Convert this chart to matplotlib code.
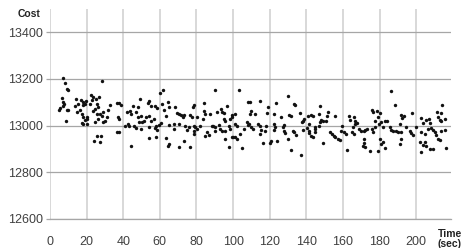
import numpy as np
import matplotlib
matplotlib.use("Agg")
import matplotlib.pyplot as plt

# time (sec) and cost values
time_s = [
    7.3, 8.0, 9.5, 10.0, 28.2, 6.7, 7.3, 7.6, 6.9, 5.5, 5.1, 9.1, 10.0, 14.0, 16.7, 18.2, 19.5, 19.1,
    17.8, 15.5, 13.6, 16.4, 14.5, 17.3, 18.2, 20.0, 20.4, 19.1, 17.3, 18.2, 22.2, 23.3, 26.5, 25.1,
    22.7, 21.8, 25.5, 24.5, 26.4, 23.6, 25.5, 27.3, 28.2, 29.1, 31.8, 32.7, 30.0, 28.7, 26.4, 24.5,
    8.7, 20.0, 25.5, 27.6, 24.0, 27.3, 36.4, 36.4, 30.9,
    61.5, 37.8, 38.7, 36.9, 37.5, 49.1, 45.1, 47.8, 53.3, 54.2, 55.1, 57.5, 58.7, 60.0, 61.1, 64.2,
    65.1, 62.4, 63.3, 43.6, 41.8, 44.2, 46.9, 47.8, 49.6, 48.7, 50.2, 51.5, 52.4, 54.2, 55.1, 56.9,
    42.4, 41.1, 43.3, 46.0, 46.9, 49.6, 54.2, 57.5, 58.7, 57.8, 60.5, 59.6, 65.1, 67.8, 70.5, 69.3,
    70.2, 71.5, 72.4, 68.4, 44.2, 54.2, 57.8, 63.3, 65.1, 64.2, 70.2, 67.8, 37.8,
    89.9, 103.0, 83.9, 78.4, 77.9, 73.0, 76.6, 77.5, 80.2, 83.9, 84.4, 83.3, 87.5, 91.1, 93.5, 94.2,
    95.3, 96.6, 99.3, 100.8, 94.8, 95.7, 98.4, 99.3, 101.1, 102.0, 108.4, 107.5, 108.0, 73.9, 75.7,
    74.8, 78.4, 79.3, 78.9, 80.2, 78.4, 82.0, 85.7, 86.6, 84.8, 88.4, 89.3, 90.2, 92.1, 93.0, 93.9,
    95.7, 97.5, 98.4, 99.3, 100.2, 101.1, 102.0, 103.9, 105.7, 73.0, 76.6, 97.5, 104.8, 95.7, 90.2,
    109.0, 114.5, 109.6, 109.0, 112.1, 129.9, 133.2, 133.9, 123.6, 119.0, 118.6, 122.3, 125.9, 130.8,
    131.4, 136.3, 138.1, 139.0, 137.6, 140.8, 142.6, 143.5, 141.7, 108.5, 109.9, 110.8, 113.6, 114.5,
    115.4, 118.1, 114.5, 117.2, 122.6, 123.0, 122.3, 127.7, 127.2, 127.7, 128.1, 132.6, 133.5, 134.5,
    138.1, 140.5, 141.2, 141.7, 142.6, 143.5, 116.3, 119.9, 120.8, 124.1, 129.9, 131.7, 137.2, 144.5,
    147.4, 146.8, 151.7, 151.4, 155.9, 148.1, 147.7, 149.2, 150.5, 146.8, 145.0, 144.5, 153.2, 154.1,
    155.0, 155.9, 157.2, 158.3, 159.6, 159.0, 160.5, 161.4, 163.2, 164.1, 165.9, 166.8, 166.8, 167.7,
    165.6, 165.0, 165.9, 168.6, 169.6, 171.4, 172.3, 173.2, 175.9, 176.5, 178.6, 179.0, 177.7, 175.9,
    176.5, 177.7, 179.6, 171.4, 171.7, 171.0, 172.3, 175.0, 179.0, 162.3, 149.2,
    186.5, 188.3, 214.3, 211.4, 213.7, 211.9, 212.8, 213.7, 215.6, 191.9, 193.2, 192.5, 197.7, 180.5,
    181.0, 182.8, 184.1, 181.9, 185.6, 186.5, 187.4, 189.2, 190.1, 191.9, 191.4, 194.6, 196.5, 197.4,
    198.3, 200.1, 202.8, 203.7, 205.5, 207.0, 207.4, 208.3, 209.2, 210.1, 211.0, 206.5, 202.8, 204.6,
    213.7, 215.6, 180.1, 181.9, 181.0, 182.8, 191.9, 191.0, 201.9, 204.6, 203.7, 205.5, 207.4, 209.2,
    211.9, 212.8, 216.5, 202.8,
]
cost = [
    13203, 13183, 13157, 13153, 13193, 13117, 13100, 13093, 13086, 13076, 13069, 13067, 13069, 13113,
    13110, 13100, 13107, 13093, 13089, 13093, 13083, 13067, 13057, 13050, 13036, 13039, 13029, 13024,
    13010, 13007, 13133, 13121, 13124, 13114, 13110, 13093, 13093, 13071, 13079, 13061, 13050, 13050,
    13043, 13057, 13067, 13089, 13021, 13014, 13029, 13014, 13019, 13007, 12957, 12954, 12936, 12929,
    12974, 13096, 13036,
    13154, 13097, 13090, 13036, 12971, 13114, 13086, 13081, 13097, 13107, 13086, 13086, 13076, 13139,
    13093, 13103, 13081, 13067, 13043, 13061, 13057, 13050, 13057, 13036, 13043, 13014, 13014, 13019,
    13036, 13043, 13021, 13029, 13007, 12997, 13000, 13000, 12990, 12986, 12993, 12990, 12981, 13000,
    13010, 13004, 13004, 13007, 13007, 13053, 13050, 13047, 13036, 13079, 12914, 12946, 12950, 12947,
    12921, 12914, 12910, 12986, 13029,
    13153, 13153, 13097, 13089, 13081, 13046, 13046, 13036, 13036, 13064, 13050, 13029, 13050, 13057,
    13071, 13057, 13053, 13084, 13047, 13050, 13029, 13021, 13029, 13036, 13007, 13000, 13100, 13014,
    13004, 13000, 12996, 12981, 13000, 12993, 12976, 12986, 12964, 13000, 12971, 12961, 12957, 13000,
    13000, 12993, 13004, 12986, 12979, 12976, 13000, 12986, 12953, 12950, 12953, 12943, 12964, 12986,
    12936, 12907, 12907, 12904, 12943, 12979,
    13100, 13104, 13064, 13050, 13050, 13129, 13093, 13089, 13096, 13081, 13053, 13050, 13039, 13047,
    13040, 13056, 13021, 13029, 13014, 13043, 13047, 13043, 13007, 13007, 12993, 12986, 13007, 13000,
    12981, 13000, 12964, 12976, 13007, 12993, 12981, 13003, 12996, 12979, 12967, 12979, 12971, 12961,
    12981, 12990, 12979, 12967, 12957, 12950, 12924, 12924, 12936, 12936, 12943, 12897, 12876, 12993,
    13086, 13050, 13057, 13043, 13043, 13024, 13014, 13019, 13019, 13000, 12986, 12971, 12974, 12964,
    12957, 12950, 12943, 12939, 13000, 12979, 12971, 12964, 13043, 13024, 13036, 13019, 13007, 13010,
    12993, 12971, 12964, 12986, 12976, 12979, 12981, 12986, 13067, 13057, 13064, 13036, 13021, 12986,
    12971, 12996, 13007, 12943, 12924, 12914, 12910, 12893, 12890, 12897, 12924,
    13147, 13089, 13089, 13057, 13053, 13039, 13024, 13021, 13029, 13047, 13043, 13033, 13053, 13053,
    13014, 13019, 13019, 12996, 12993, 12981, 12976, 12979, 12971, 12971, 13007, 12996, 12976, 12967,
    12961, 12996, 13031, 13010, 13024, 13029, 13010, 12990, 12981, 12971, 12961, 12986, 12974, 12964,
    12979, 12981, 12943, 12931, 12921, 12903, 12943, 12921, 12929, 12929, 12919, 12914, 12900, 12900,
    12943, 12939, 12904, 12889,
]
x_ticks = [0, 20, 40, 60, 80, 100, 120, 140, 160, 180, 200]
y_ticks = [12600, 12800, 13000, 13200, 13400]

plt.rcParams['font.family'] = ['Liberation Sans', 'DejaVu Sans']

fig = plt.figure(figsize=(4.63, 2.48), dpi=100)
ax = fig.add_axes([0.108, 0.117, 0.866, 0.847])

ax.scatter(time_s, cost, s=6, marker='o', color='#111111', linewidths=0, zorder=3)

ax.set_xlim(0, 219)
ax.set_ylim(12600, 13500)
ax.set_xticks(x_ticks)
ax.set_yticks(y_ticks)

ax.xaxis.grid(True, color='#d2d2d2', linewidth=1.2)
ax.yaxis.grid(True, color='#a6a6a6', linewidth=0.9)
ax.set_axisbelow(True)

for side in ['top', 'right', 'left']:
    ax.spines[side].set_visible(False)
ax.spines['bottom'].set_color('#a6a6a6')
ax.spines['bottom'].set_linewidth(0.9)

ax.tick_params(axis='y', length=3, width=0.9, color='#a6a6a6', pad=2,
               labelsize=9, labelcolor='#404040')
ax.tick_params(axis='x', length=0, pad=12, labelsize=9, labelcolor='#404040')

fig.text(0.063, 0.945, 'Cost', fontsize=7.5, fontweight='bold', color='#222222',
         ha='center', va='center')
fig.text(0.945, 0.075, 'Time\n(sec)', fontsize=7.5, fontweight='bold', color='#222222',
         ha='left', va='top', linespacing=1.0)

fig.savefig('out.png', dpi=100)
